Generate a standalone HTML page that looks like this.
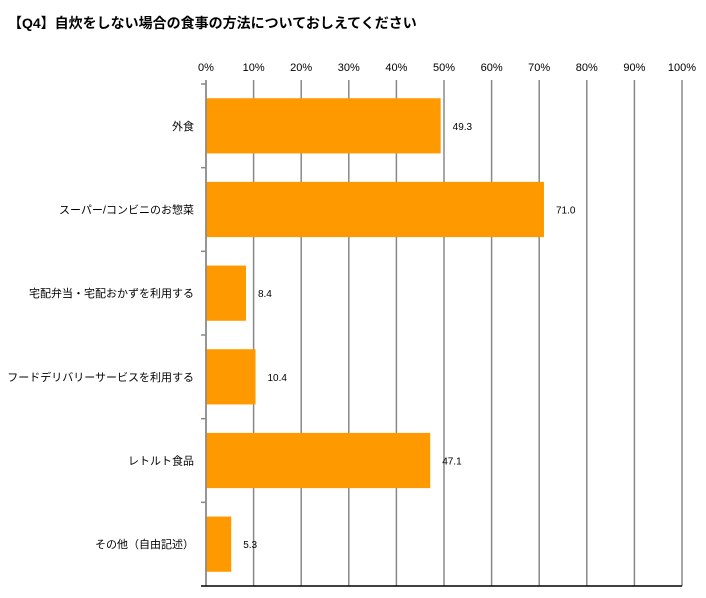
<!DOCTYPE html>
<html><head><meta charset="utf-8"><style>
body{margin:0;background:#fff;font-family:"Liberation Sans","Noto Sans CJK JP",sans-serif;}
</style></head><body>
<svg id="c" width="706" height="593" xmlns="http://www.w3.org/2000/svg">
<text x="8" y="28" font-size="14" font-weight="bold" fill="#000" font-family="Liberation Sans,Noto Sans CJK JP,sans-serif">【Q4】自炊をしない場合の食事の方法についておしえてください</text>
</svg>
<script>
const categories=["外食","スーパー/コンビニのお惣菜","宅配弁当・宅配おかずを利用する","フードデリバリーサービスを利用する","レトルト食品","その他（自由記述）"];
const values=[49.3,71.0,8.4,10.4,47.1,5.3];
const tickLabels=["0%","10%","20%","30%","40%","50%","60%","70%","80%","90%","100%"];
const ticks=[0,10,20,30,40,50,60,70,80,90,100];
const svg=document.getElementById('c');
const NS="http://www.w3.org/2000/svg";
const L=206,R=682,T=84,B=586;
const x=v=>L+(R-L)*v/100;
const band=(B-T)/categories.length;
const y=i=>T+band*i;
function mk(t,a){const e=document.createElementNS(NS,t);for(const k in a)e.setAttribute(k,a[k]);svg.appendChild(e);return e;}
ticks.forEach((t,i)=>{
  const g=mk('line',{x1:x(t),x2:x(t),y1:T-4,y2:B,stroke:'#888','stroke-width':1.5});
  
  
  const tx=mk('text',{x:x(t),y:T-13,'font-size':11,'text-anchor':'middle',fill:'#000'});
  tx.textContent=tickLabels[i];
  
  
});
categories.forEach((c,i)=>{
  const tk=mk('line',{x1:L-5,x2:L,y1:y(i),y2:y(i),stroke:'#888','stroke-width':1.5});
  
  
  const bh=band*0.66, by=y(i)+(band-bh)/2;
  const r=mk('rect',{x:L,y:by,width:x(values[i])-L,height:bh,fill:'#FF9900'});
  
  
  const v=mk('text',{x:x(values[i])+12,y:y(i)+band/2+4,'font-size':10,fill:'#000'});
  v.textContent=values[i].toFixed(1);
  
  
  const lb=mk('text',{x:L-12,y:y(i)+band/2+4,'font-size':11,'text-anchor':'end',fill:'#000'});
  lb.textContent=c;
  
  
});
const ax=mk('line',{x1:L,x2:L,y1:T-4,y2:B,stroke:'#888','stroke-width':1.5});


const bx=mk('line',{x1:L-5,x2:R,y1:B,y2:B,stroke:'#000','stroke-width':1.5});


</script>
</body></html>
